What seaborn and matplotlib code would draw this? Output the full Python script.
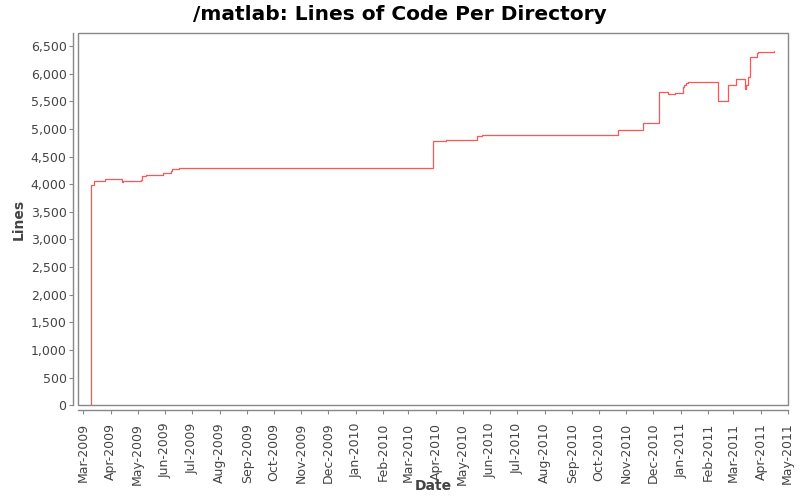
import matplotlib
matplotlib.use("Agg")
import matplotlib.pyplot as plt
import matplotlib.dates as mdates
import matplotlib.ticker as mticker
from matplotlib.patches import Rectangle
import seaborn as sns
import pandas as pd

dates = ['2009-03-10', '2009-03-10', '2009-03-13', '2009-03-25', '2009-04-13', '2009-04-15',
         '2009-05-05', '2009-05-06', '2009-05-10', '2009-05-29', '2009-06-07', '2009-06-09',
         '2009-06-17', '2010-03-29', '2010-04-12', '2010-05-17', '2010-05-23', '2010-10-23',
         '2010-11-19', '2010-12-08', '2010-12-18', '2010-12-26', '2011-01-04', '2011-01-05',
         '2011-01-07', '2011-01-09', '2011-02-12', '2011-02-23', '2011-03-04', '2011-03-14',
         '2011-03-15', '2011-03-17', '2011-03-20', '2011-03-27', '2011-03-29', '2011-04-16']
lines = [0, 3985, 4052, 4088, 4034, 4052,
         4076, 4143, 4161, 4197, 4233, 4269,
         4287, 4776, 4794, 4872, 4890, 4980,
         5101, 5662, 5631, 5649, 5763, 5800,
         5825, 5843, 5505, 5789, 5897, 5716,
         5789, 5933, 6295, 6368, 6386, 6404]

title = "/matlab: Lines of Code Per Directory"
x_label = "Date"
y_label = "Lines"

df = pd.DataFrame({"Date": pd.to_datetime(dates), "Lines": lines})

sns.set_theme(style="white")
plt.rcParams['font.family'] = ['DejaVu Sans']

fig = plt.figure(figsize=(8, 5), dpi=100)
ax = fig.add_axes([0.0979, 0.1894, 0.9846 - 0.0979, 0.9334 - 0.1894])

sns.lineplot(data=df, x="Date", y="Lines", ax=ax, color="#ff5555", linewidth=0.9,
             drawstyle="steps-post", estimator=None, sort=False)

ax.set_xlim(pd.Timestamp('2009-02-23 10:00'), pd.Timestamp('2011-05-01'))
ax.set_ylim(0, 6730)

ax.yaxis.set_major_locator(mticker.MultipleLocator(500))
ax.yaxis.set_major_formatter(mticker.FuncFormatter(lambda v, p: f"{int(v):,}"))
ax.xaxis.set_major_locator(mdates.MonthLocator())
ax.xaxis.set_major_formatter(mdates.DateFormatter('%b-%Y'))

gray = "#888888"
for side in ["top", "right"]:
    ax.spines[side].set_visible(False)
for side in ["left", "bottom"]:
    ax.spines[side].set_position(('outward', 3.5))
    ax.spines[side].set_color(gray)
    ax.spines[side].set_linewidth(1.0)

ax.add_patch(Rectangle((0, 0), 1, 1, transform=ax.transAxes, fill=False,
                       edgecolor=gray, linewidth=1.0, clip_on=False, zorder=5))

ax.tick_params(axis='both', which='major', direction='out', length=3, width=0.8,
               color=gray, labelcolor="#444444", labelsize=9, pad=2,
               bottom=True, left=True)
ax.tick_params(axis='x', pad=6)
plt.setp(ax.get_xticklabels(), rotation=90)

ax.set_xlabel(x_label, fontsize=10, fontweight='bold', color="#444444")
ax.set_ylabel(y_label, fontsize=10, fontweight='bold', color="#444444")
ax.xaxis.set_label_coords(0.5, -0.197)
ax.yaxis.set_label_coords(-0.074, 0.5)

fig.text(0.5, 0.972, title, fontsize=14.5, fontweight='bold', color="#000000",
         ha='center', va='center')

fig.savefig("out.png", dpi=100, facecolor="white")
